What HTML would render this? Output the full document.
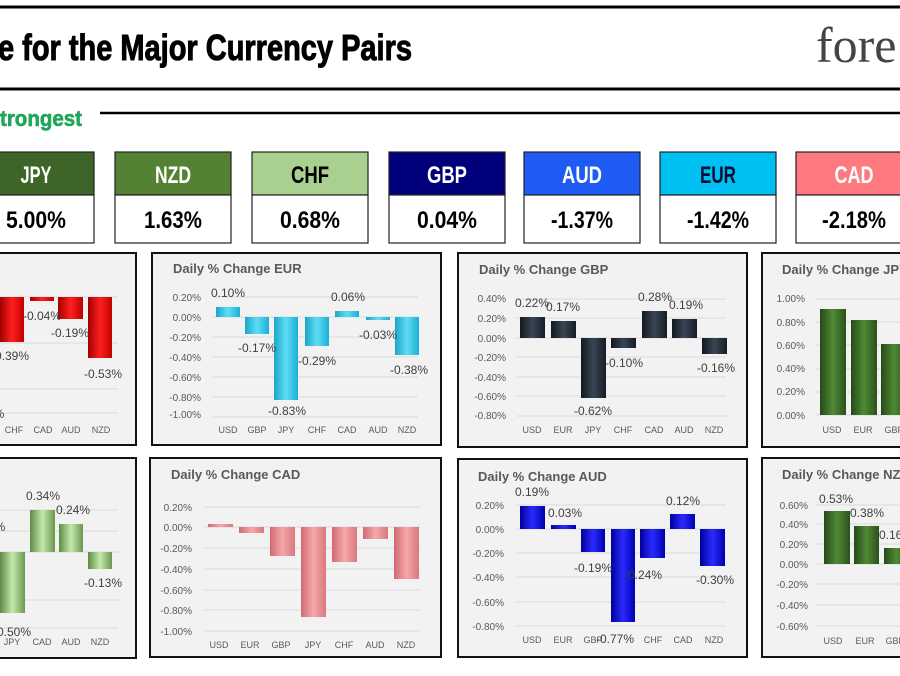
<!DOCTYPE html>
<html><head><meta charset="utf-8"><style>
html,body{margin:0;padding:0;background:#fff;width:900px;height:676px;overflow:hidden}
svg{display:block}
.t{font-family:"Liberation Sans Narrow","Liberation Sans",sans-serif;font-weight:bold}
.yl{font-family:"Liberation Sans",sans-serif;font-size:10px;fill:#595959;text-anchor:end}
.xl{font-family:"Liberation Sans",sans-serif;font-size:9px;fill:#595959;text-anchor:middle}
.dl{font-family:"Liberation Sans",sans-serif;font-size:12px;fill:#404040;text-anchor:middle}
.ct{font-family:"Liberation Sans",sans-serif;font-size:13px;font-weight:bold;fill:#595959}
.g line{stroke:#d9d9d9;stroke-width:1}
</style></head><body>
<svg width="900" height="676" viewBox="0 0 900 676" xmlns="http://www.w3.org/2000/svg">
<defs>
<linearGradient id="red" x1="0" x2="1"><stop offset="0" stop-color="#a00000"/><stop offset=".5" stop-color="#ff2020"/><stop offset="1" stop-color="#c00000"/></linearGradient>
<linearGradient id="cyan" x1="0" x2="1"><stop offset="0" stop-color="#1aa6c8"/><stop offset=".5" stop-color="#5fdcf5"/><stop offset="1" stop-color="#1ab0d4"/></linearGradient>
<linearGradient id="navy" x1="0" x2="1"><stop offset="0" stop-color="#111820"/><stop offset=".5" stop-color="#3a4654"/><stop offset="1" stop-color="#151c26"/></linearGradient>
<linearGradient id="dgreen" x1="0" x2="1"><stop offset="0" stop-color="#264a18"/><stop offset=".5" stop-color="#4f8a34"/><stop offset="1" stop-color="#2b501c"/></linearGradient>
<linearGradient id="lgreen" x1="0" x2="1"><stop offset="0" stop-color="#5e8a46"/><stop offset=".5" stop-color="#c5e8a8"/><stop offset="1" stop-color="#6a9850"/></linearGradient>
<linearGradient id="salmon" x1="0" x2="1"><stop offset="0" stop-color="#d06a70"/><stop offset=".5" stop-color="#f4a8ab"/><stop offset="1" stop-color="#d8787c"/></linearGradient>
<linearGradient id="blue" x1="0" x2="1"><stop offset="0" stop-color="#00009a"/><stop offset=".5" stop-color="#2a2aff"/><stop offset="1" stop-color="#0000b0"/></linearGradient>
</defs>

<!-- header -->
<line x1="0" y1="7" x2="900" y2="7" stroke="#000" stroke-width="3"/>
<text x="-2" y="60" class="t" font-size="36" fill="#000" stroke="#000" stroke-width="1" textLength="414" lengthAdjust="spacingAndGlyphs">e for the Major Currency Pairs</text>
<text x="816" y="62" font-family="Liberation Serif,serif" font-size="50" fill="#444">fore</text>
<line x1="0" y1="89" x2="900" y2="89" stroke="#000" stroke-width="3"/>
<text x="0" y="126" class="t" font-size="22" fill="#1fa55a" stroke="#1fa55a" stroke-width=".6" textLength="82" lengthAdjust="spacingAndGlyphs">trongest</text>
<line x1="100" y1="113" x2="900" y2="113" stroke="#000" stroke-width="2.5"/>

<!-- currency boxes -->
<g stroke="#222" stroke-width="1.2">
<rect x="-21" y="152" width="115" height="43" fill="#3f6428"/><rect x="-21" y="195" width="115" height="48" fill="#fff"/>
<rect x="115" y="152" width="116" height="43" fill="#548235"/><rect x="115" y="195" width="116" height="48" fill="#fff"/>
<rect x="252" y="152" width="116" height="43" fill="#a9d08e"/><rect x="252" y="195" width="116" height="48" fill="#fff"/>
<rect x="389" y="152" width="116" height="43" fill="#00007a"/><rect x="389" y="195" width="116" height="48" fill="#fff"/>
<rect x="524" y="152" width="116" height="43" fill="#1e5bf5"/><rect x="524" y="195" width="116" height="48" fill="#fff"/>
<rect x="660" y="152" width="116" height="43" fill="#00bff2"/><rect x="660" y="195" width="116" height="48" fill="#fff"/>
<rect x="796" y="152" width="116" height="43" fill="#ff7a80"/><rect x="796" y="195" width="116" height="48" fill="#fff"/>
</g>
<g class="t" font-size="24" text-anchor="middle" lengthAdjust="spacingAndGlyphs">
<text x="36" y="183" fill="#fff" textLength="31" lengthAdjust="spacingAndGlyphs">JPY</text><text x="36" y="228" fill="#000" textLength="60" lengthAdjust="spacingAndGlyphs">5.00%</text>
<text x="173" y="183" fill="#fff" textLength="36" lengthAdjust="spacingAndGlyphs">NZD</text><text x="173" y="228" fill="#000" textLength="58" lengthAdjust="spacingAndGlyphs">1.63%</text>
<text x="310" y="183" fill="#000" textLength="38" lengthAdjust="spacingAndGlyphs">CHF</text><text x="310" y="228" fill="#000" textLength="60" lengthAdjust="spacingAndGlyphs">0.68%</text>
<text x="447" y="183" fill="#fff" textLength="40" lengthAdjust="spacingAndGlyphs">GBP</text><text x="447" y="228" fill="#000" textLength="60" lengthAdjust="spacingAndGlyphs">0.04%</text>
<text x="582" y="183" fill="#fff" textLength="40" lengthAdjust="spacingAndGlyphs">AUD</text><text x="582" y="228" fill="#000" textLength="62" lengthAdjust="spacingAndGlyphs">-1.37%</text>
<text x="718" y="183" fill="#0a1030" textLength="36" lengthAdjust="spacingAndGlyphs">EUR</text><text x="718" y="228" fill="#000" textLength="62" lengthAdjust="spacingAndGlyphs">-1.42%</text>
<text x="854" y="183" fill="#fff" textLength="39" lengthAdjust="spacingAndGlyphs">CAD</text><text x="854" y="228" fill="#000" textLength="64" lengthAdjust="spacingAndGlyphs">-2.18%</text>
</g>

<!-- panels -->
<g fill="#f2f2f2" stroke="#111" stroke-width="2">
<rect x="-5" y="253" width="141" height="192"/>
<rect x="152" y="253" width="289" height="192"/>
<rect x="458" y="253" width="289" height="194"/>
<rect x="762" y="253" width="150" height="194"/>
<rect x="-5" y="458" width="141" height="200"/>
<rect x="150" y="458" width="291" height="199"/>
<rect x="458" y="459" width="289" height="198"/>
<rect x="762" y="458" width="150" height="199"/>
</g>

<!-- Panel 1: USD (red) -->
<g class="g"><line x1="0" y1="297" x2="118" y2="297"/><line x1="0" y1="343" x2="118" y2="343"/><line x1="0" y1="389" x2="118" y2="389"/><line x1="0" y1="413" x2="118" y2="413"/></g>
<rect x="0" y="297" width="24" height="45" fill="url(#red)"/>
<rect x="30" y="297" width="24" height="4" fill="url(#red)"/>
<rect x="58" y="297" width="25" height="22" fill="url(#red)"/>
<rect x="88" y="297" width="24" height="61" fill="url(#red)"/>
<text class="dl" x="42" y="320">-0.04%</text><text class="dl" x="70" y="337">-0.19%</text>
<text class="dl" x="12" y="360">0.39%</text><text class="dl" x="103" y="378">-0.53%</text><text class="dl" x="-1" y="418">%</text>
<text class="xl" x="14" y="433">CHF</text><text class="xl" x="43" y="433">CAD</text><text class="xl" x="71" y="433">AUD</text><text class="xl" x="101" y="433">NZD</text>

<!-- Panel 2: EUR -->
<text class="ct" x="173" y="273">Daily % Change EUR</text>
<g class="g"><line x1="213" y1="297" x2="418" y2="297"/><line x1="213" y1="317" x2="418" y2="317"/><line x1="213" y1="337" x2="418" y2="337"/><line x1="213" y1="357" x2="418" y2="357"/><line x1="213" y1="377" x2="418" y2="377"/><line x1="213" y1="397" x2="418" y2="397"/><line x1="213" y1="417" x2="418" y2="417"/></g>
<text class="yl" x="201" y="301">0.20%</text><text class="yl" x="201" y="321">0.00%</text><text class="yl" x="201" y="341">-0.20%</text><text class="yl" x="201" y="361">-0.40%</text><text class="yl" x="201" y="381">-0.60%</text><text class="yl" x="201" y="401">-0.80%</text><text class="yl" x="201" y="418">-1.00%</text>
<rect x="216" y="307" width="24" height="10" fill="url(#cyan)"/>
<rect x="245" y="317" width="24" height="17" fill="url(#cyan)"/>
<rect x="274" y="317" width="24" height="83" fill="url(#cyan)"/>
<rect x="305" y="317" width="24" height="29" fill="url(#cyan)"/>
<rect x="335" y="311" width="24" height="6" fill="url(#cyan)"/>
<rect x="366" y="317" width="24" height="3" fill="url(#cyan)"/>
<rect x="395" y="317" width="24" height="38" fill="url(#cyan)"/>
<text class="dl" x="228" y="297">0.10%</text><text class="dl" x="257" y="352">-0.17%</text><text class="dl" x="287" y="415">-0.83%</text><text class="dl" x="317" y="365">-0.29%</text><text class="dl" x="348" y="301">0.06%</text><text class="dl" x="378" y="339">-0.03%</text><text class="dl" x="409" y="374">-0.38%</text>
<text class="xl" x="228" y="433">USD</text><text class="xl" x="257" y="433">GBP</text><text class="xl" x="286" y="433">JPY</text><text class="xl" x="317" y="433">CHF</text><text class="xl" x="347" y="433">CAD</text><text class="xl" x="378" y="433">AUD</text><text class="xl" x="407" y="433">NZD</text>

<!-- Panel 3: GBP -->
<text class="ct" x="479" y="274">Daily % Change GBP</text>
<g class="g"><line x1="517" y1="299" x2="726" y2="299"/><line x1="517" y1="318" x2="726" y2="318"/><line x1="517" y1="338" x2="726" y2="338"/><line x1="517" y1="357" x2="726" y2="357"/><line x1="517" y1="377" x2="726" y2="377"/><line x1="517" y1="396" x2="726" y2="396"/><line x1="517" y1="416" x2="726" y2="416"/></g>
<text class="yl" x="506" y="302">0.40%</text><text class="yl" x="506" y="322">0.20%</text><text class="yl" x="506" y="342">0.00%</text><text class="yl" x="506" y="361">-0.20%</text><text class="yl" x="506" y="381">-0.40%</text><text class="yl" x="506" y="400">-0.60%</text><text class="yl" x="506" y="419">-0.80%</text>
<rect x="520" y="317" width="25" height="21" fill="url(#navy)"/>
<rect x="551" y="321" width="25" height="17" fill="url(#navy)"/>
<rect x="581" y="338" width="25" height="60" fill="url(#navy)"/>
<rect x="611" y="338" width="25" height="10" fill="url(#navy)"/>
<rect x="642" y="311" width="25" height="27" fill="url(#navy)"/>
<rect x="672" y="319" width="25" height="19" fill="url(#navy)"/>
<rect x="702" y="338" width="25" height="16" fill="url(#navy)"/>
<text class="dl" x="532" y="307">0.22%</text><text class="dl" x="563" y="311">0.17%</text><text class="dl" x="593" y="415">-0.62%</text><text class="dl" x="624" y="367">-0.10%</text><text class="dl" x="655" y="301">0.28%</text><text class="dl" x="686" y="309">0.19%</text><text class="dl" x="716" y="372">-0.16%</text>
<text class="xl" x="532" y="433">USD</text><text class="xl" x="563" y="433">EUR</text><text class="xl" x="593" y="433">JPY</text><text class="xl" x="623" y="433">CHF</text><text class="xl" x="654" y="433">CAD</text><text class="xl" x="684" y="433">AUD</text><text class="xl" x="714" y="433">NZD</text>

<!-- Panel 4: JPY -->
<text class="ct" x="782" y="274">Daily % Change JPY</text>
<g class="g"><line x1="816" y1="299" x2="900" y2="299"/><line x1="816" y1="322" x2="900" y2="322"/><line x1="816" y1="345" x2="900" y2="345"/><line x1="816" y1="369" x2="900" y2="369"/><line x1="816" y1="392" x2="900" y2="392"/><line x1="816" y1="415" x2="900" y2="415"/></g>
<text class="yl" x="805" y="302">1.00%</text><text class="yl" x="805" y="326">0.80%</text><text class="yl" x="805" y="349">0.60%</text><text class="yl" x="805" y="372">0.40%</text><text class="yl" x="805" y="395">0.20%</text><text class="yl" x="805" y="419">0.00%</text>
<rect x="820" y="309" width="26" height="106" fill="url(#dgreen)"/>
<rect x="851" y="320" width="26" height="95" fill="url(#dgreen)"/>
<rect x="881" y="344" width="26" height="71" fill="url(#dgreen)"/>
<text class="xl" x="832" y="433">USD</text><text class="xl" x="863" y="433">EUR</text><text class="xl" x="894" y="433">GBP</text>

<!-- Panel 5: CHF (light green) -->
<g class="g"><line x1="0" y1="510" x2="118" y2="510"/><line x1="0" y1="531" x2="118" y2="531"/><line x1="0" y1="552" x2="118" y2="552"/><line x1="0" y1="600" x2="118" y2="600"/><line x1="0" y1="628" x2="118" y2="628"/></g>
<rect x="0" y="552" width="25" height="61" fill="url(#lgreen)"/>
<rect x="30" y="510" width="25" height="42" fill="url(#lgreen)"/>
<rect x="59" y="524" width="24" height="28" fill="url(#lgreen)"/>
<rect x="88" y="552" width="24" height="17" fill="url(#lgreen)"/>
<text class="dl" x="43" y="500">0.34%</text><text class="dl" x="73" y="514">0.24%</text><text class="dl" x="103" y="587">-0.13%</text><text class="dl" x="14" y="636">0.50%</text><text class="dl" x="0" y="531">%</text>
<text class="xl" x="12" y="645">JPY</text><text class="xl" x="42" y="645">CAD</text><text class="xl" x="71" y="645">AUD</text><text class="xl" x="100" y="645">NZD</text>

<!-- Panel 6: CAD -->
<text class="ct" x="171" y="479">Daily % Change CAD</text>
<g class="g"><line x1="205" y1="507" x2="420" y2="507"/><line x1="205" y1="527" x2="420" y2="527"/><line x1="205" y1="548" x2="420" y2="548"/><line x1="205" y1="569" x2="420" y2="569"/><line x1="205" y1="590" x2="420" y2="590"/><line x1="205" y1="610" x2="420" y2="610"/><line x1="205" y1="631" x2="420" y2="631"/></g>
<text class="yl" x="192" y="511">0.20%</text><text class="yl" x="192" y="531">0.00%</text><text class="yl" x="192" y="552">-0.20%</text><text class="yl" x="192" y="573">-0.40%</text><text class="yl" x="192" y="594">-0.60%</text><text class="yl" x="192" y="614">-0.80%</text><text class="yl" x="192" y="635">-1.00%</text>
<rect x="208" y="524" width="25" height="3" fill="url(#salmon)"/>
<rect x="239" y="527" width="25" height="6" fill="url(#salmon)"/>
<rect x="270" y="527" width="25" height="29" fill="url(#salmon)"/>
<rect x="301" y="527" width="25" height="90" fill="url(#salmon)"/>
<rect x="332" y="527" width="25" height="35" fill="url(#salmon)"/>
<rect x="363" y="527" width="25" height="12" fill="url(#salmon)"/>
<rect x="394" y="527" width="25" height="52" fill="url(#salmon)"/>
<text class="xl" x="219" y="648">USD</text><text class="xl" x="250" y="648">EUR</text><text class="xl" x="281" y="648">GBP</text><text class="xl" x="313" y="648">JPY</text><text class="xl" x="344" y="648">CHF</text><text class="xl" x="375" y="648">AUD</text><text class="xl" x="406" y="648">NZD</text>

<!-- Panel 7: AUD -->
<text class="ct" x="478" y="481">Daily % Change AUD</text>
<g class="g"><line x1="517" y1="505" x2="726" y2="505"/><line x1="517" y1="529" x2="726" y2="529"/><line x1="517" y1="553" x2="726" y2="553"/><line x1="517" y1="577" x2="726" y2="577"/><line x1="517" y1="602" x2="726" y2="602"/><line x1="517" y1="626" x2="726" y2="626"/></g>
<text class="yl" x="504" y="509">0.20%</text><text class="yl" x="504" y="533">0.00%</text><text class="yl" x="504" y="557">-0.20%</text><text class="yl" x="504" y="581">-0.40%</text><text class="yl" x="504" y="606">-0.60%</text><text class="yl" x="504" y="630">-0.80%</text>
<rect x="520" y="506" width="25" height="23" fill="url(#blue)"/>
<rect x="551" y="525" width="25" height="4" fill="url(#blue)"/>
<rect x="581" y="529" width="24" height="23" fill="url(#blue)"/>
<rect x="611" y="529" width="24" height="93" fill="url(#blue)"/>
<rect x="640" y="529" width="25" height="29" fill="url(#blue)"/>
<rect x="670" y="514" width="25" height="15" fill="url(#blue)"/>
<rect x="700" y="529" width="25" height="37" fill="url(#blue)"/>
<text class="dl" x="532" y="496">0.19%</text><text class="dl" x="565" y="517">0.03%</text><text class="dl" x="593" y="572">-0.19%</text><text class="dl" x="643" y="579">-0.24%</text><text class="dl" x="683" y="505">0.12%</text><text class="dl" x="715" y="584">-0.30%</text>
<text class="xl" x="532" y="643">USD</text><text class="xl" x="563" y="643">EUR</text><text class="xl" x="593" y="643">GBP</text><text class="xl" x="653" y="643">CHF</text><text class="xl" x="683" y="643">CAD</text><text class="xl" x="714" y="643">NZD</text>
<text class="dl" x="615" y="643">-0.77%</text>

<!-- Panel 8: NZD -->
<text class="ct" x="782" y="479">Daily % Change NZD</text>
<g class="g"><line x1="816" y1="505" x2="900" y2="505"/><line x1="816" y1="524" x2="900" y2="524"/><line x1="816" y1="544" x2="900" y2="544"/><line x1="816" y1="564" x2="900" y2="564"/><line x1="816" y1="584" x2="900" y2="584"/><line x1="816" y1="605" x2="900" y2="605"/><line x1="816" y1="626" x2="900" y2="626"/></g>
<text class="yl" x="808" y="509">0.60%</text><text class="yl" x="808" y="528">0.40%</text><text class="yl" x="808" y="548">0.20%</text><text class="yl" x="808" y="568">0.00%</text><text class="yl" x="808" y="588">-0.20%</text><text class="yl" x="808" y="609">-0.40%</text><text class="yl" x="808" y="630">-0.60%</text>
<rect x="824" y="511" width="26" height="53" fill="url(#dgreen)"/>
<rect x="854" y="526" width="25" height="38" fill="url(#dgreen)"/>
<rect x="884" y="548" width="25" height="16" fill="url(#dgreen)"/>
<text class="dl" x="836" y="503">0.53%</text><text class="dl" x="867" y="517">0.38%</text><text class="dl" x="896" y="539">0.16%</text>
<text class="xl" x="833" y="644">USD</text><text class="xl" x="865" y="644">EUR</text><text class="xl" x="895" y="644">GBP</text>
</svg>
</body></html>
